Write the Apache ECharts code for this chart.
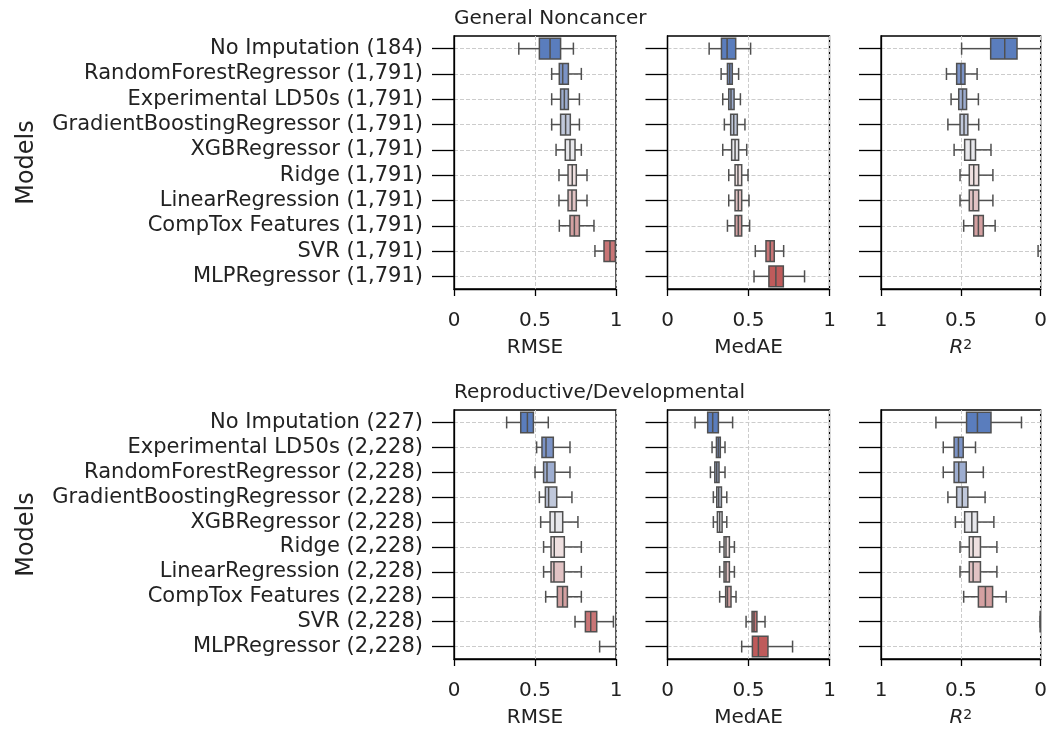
<!DOCTYPE html>
<html>
<head>
<meta charset="utf-8">
<script src="https://cdn.jsdelivr.net/npm/echarts@6/dist/echarts.min.js"></script>
<style>
  html, body { margin: 0; padding: 0; background: #fff; }
  #chart { width: 1050px; height: 729px; }
</style>
</head>
<body>
<div id="chart"></div>
<script>
// model names (y categories) for the two panels rows
var gnModels = ['No Imputation (184)', 'RandomForestRegressor (1,791)', 'Experimental LD50s (1,791)',
  'GradientBoostingRegressor (1,791)', 'XGBRegressor (1,791)', 'Ridge (1,791)',
  'LinearRegression (1,791)', 'CompTox Features (1,791)', 'SVR (1,791)', 'MLPRegressor (1,791)'];
var rdModels = ['No Imputation (227)', 'Experimental LD50s (2,228)', 'RandomForestRegressor (2,228)',
  'GradientBoostingRegressor (2,228)', 'XGBRegressor (2,228)', 'Ridge (2,228)',
  'LinearRegression (2,228)', 'CompTox Features (2,228)', 'SVR (2,228)', 'MLPRegressor (2,228)'];
var rowTitles = ['General Noncancer', 'Reproductive/Developmental'];
var metricNames = ['RMSE', 'MedAE', '{i|R}{s|2}'];

// [low whisker, Q1, median, Q3, high whisker]
// parts that run off the 0..1 axis are clamped at the edge, null = nothing visible
var gnRmse = [
  [0.400, 0.527, 0.593, 0.658, 0.737],
  [0.603, 0.650, 0.671, 0.706, 0.786],
  [0.603, 0.658, 0.681, 0.706, 0.774],
  [0.603, 0.658, 0.689, 0.718, 0.774],
  [0.630, 0.687, 0.716, 0.747, 0.786],
  [0.648, 0.704, 0.730, 0.755, 0.821],
  [0.648, 0.704, 0.728, 0.755, 0.821],
  [0.650, 0.716, 0.743, 0.774, 0.864],
  [0.870, 0.926, 0.963, 0.996, 1],
  null
];
var gnMedae = [
  [0.257, 0.333, 0.368, 0.421, 0.513],
  [0.331, 0.370, 0.384, 0.400, 0.439],
  [0.341, 0.378, 0.392, 0.411, 0.450],
  [0.351, 0.390, 0.409, 0.431, 0.478],
  [0.341, 0.396, 0.417, 0.439, 0.489],
  [0.378, 0.417, 0.435, 0.458, 0.497],
  [0.378, 0.417, 0.437, 0.458, 0.503],
  [0.370, 0.417, 0.437, 0.458, 0.507],
  [0.542, 0.608, 0.634, 0.659, 0.717],
  [0.534, 0.626, 0.669, 0.715, 0.846]
];
var gnR2 = [
  [0, 0.148, 0.225, 0.313, 0.495],
  [0.398, 0.474, 0.499, 0.526, 0.590],
  [0.390, 0.464, 0.489, 0.513, 0.561],
  [0.388, 0.456, 0.480, 0.505, 0.581],
  [0.311, 0.408, 0.439, 0.476, 0.542],
  [0.299, 0.388, 0.419, 0.447, 0.505],
  [0.299, 0.388, 0.423, 0.447, 0.505],
  [0.285, 0.359, 0.390, 0.419, 0.482],
  [0, 0, 0, 0, 0.016],
  null
];
var rdRmse = [
  [0.325, 0.412, 0.453, 0.490, 0.582],
  [0.510, 0.543, 0.568, 0.613, 0.716],
  [0.500, 0.553, 0.574, 0.623, 0.716],
  [0.527, 0.564, 0.584, 0.634, 0.728],
  [0.535, 0.593, 0.623, 0.671, 0.765],
  [0.553, 0.599, 0.619, 0.681, 0.786],
  [0.553, 0.599, 0.617, 0.681, 0.786],
  [0.566, 0.638, 0.671, 0.700, 0.786],
  [0.747, 0.811, 0.844, 0.881, 0.984],
  [0.899, 1, 1, 1, 1]
];
var rdMedae = [
  [0.170, 0.248, 0.279, 0.314, 0.402],
  [0.275, 0.302, 0.314, 0.326, 0.355],
  [0.265, 0.292, 0.304, 0.318, 0.355],
  [0.283, 0.304, 0.316, 0.333, 0.366],
  [0.283, 0.308, 0.322, 0.337, 0.366],
  [0.322, 0.349, 0.361, 0.382, 0.413],
  [0.322, 0.349, 0.361, 0.382, 0.413],
  [0.322, 0.359, 0.370, 0.392, 0.423],
  [0.485, 0.522, 0.534, 0.552, 0.602],
  [0.458, 0.524, 0.561, 0.620, 0.772]
];
var rdR2 = [
  [0.120, 0.311, 0.396, 0.464, 0.656],
  [0.408, 0.485, 0.515, 0.542, 0.610],
  [0.359, 0.466, 0.513, 0.542, 0.610],
  [0.348, 0.456, 0.491, 0.526, 0.581],
  [0.293, 0.396, 0.431, 0.476, 0.534],
  [0.274, 0.377, 0.423, 0.447, 0.505],
  [0.274, 0.377, 0.423, 0.447, 0.505],
  [0.216, 0.301, 0.346, 0.390, 0.482],
  [0, 0, 0, 0.003, 0.003],
  null
];

var boxColors = ['#5a7dbd', '#7b93c6', '#9dadd0', '#c0c8db', '#e8e8ec',
  '#efe0e0', '#e2c3c4', '#d4a0a1', '#c97576', '#bf5b5b'];
var edgeColor = '#505050';
var font = 'DejaVu Sans';

var rows = [
  { models: gnModels, panels: [gnRmse, gnMedae, gnR2] },
  { models: rdModels, panels: [rdRmse, rdMedae, rdR2] }
];

var colLeft = [454, 667.5, 881];
var rowTop = [36, 410];
var rowHeight = [253, 251];
var panelWidth = 162;

function renderBox(params, api) {
  var cat = api.value(0);
  var vals = [api.value(1), api.value(2), api.value(3), api.value(4), api.value(5)];
  var pts = vals.map(function (v) { return api.coord([v, cat]); });
  var y = pts[2][1];
  var band = api.size([0, 1])[1];
  var halfBox = band * 0.41;
  var halfCap = band * 0.24;
  var line = { stroke: edgeColor, lineWidth: 1.5 };
  // clamped values sit on the axis edge: no cap there
  var atEdge = function (v) { return v <= 0 || v >= 1; };
  var kids = [
    { type: 'line', shape: { x1: pts[0][0], y1: y, x2: pts[1][0], y2: y }, style: line },
    { type: 'line', shape: { x1: pts[3][0], y1: y, x2: pts[4][0], y2: y }, style: line }
  ];
  [0, 4].forEach(function (k) {
    if (!atEdge(vals[k])) {
      kids.push({ type: 'line', shape: { x1: pts[k][0], y1: y - halfCap, x2: pts[k][0], y2: y + halfCap }, style: line });
    }
  });
  if (vals[1] !== vals[3]) {
    kids.push({
      type: 'rect',
      shape: { x: Math.min(pts[1][0], pts[3][0]), y: y - halfBox, width: Math.abs(pts[3][0] - pts[1][0]), height: 2 * halfBox },
      style: { fill: boxColors[cat], stroke: edgeColor, lineWidth: 1.5 }
    });
    kids.push({ type: 'line', shape: { x1: pts[2][0], y1: y - halfBox, x2: pts[2][0], y2: y + halfBox }, style: line });
  }
  return { type: 'group', children: kids };
}

var grids = [], xAxes = [], yAxes = [], series = [], titles = [];

rows.forEach(function (row, r) {
  titles.push({
    text: rowTitles[r], left: colLeft[0], top: 9 + (rowTop[r] - rowTop[0]), padding: 0,
    textStyle: { fontFamily: font, fontSize: 20, fontWeight: 'normal', color: '#222' }
  });
  row.panels.forEach(function (stats, c) {
    var g = grids.length;
    grids.push({
      left: colLeft[c], top: rowTop[r], width: panelWidth, height: rowHeight[r],
      show: true, borderColor: '#000', borderWidth: 1.3, backgroundColor: 'transparent'
    });
    xAxes.push({
      type: 'value', gridIndex: g, min: 0, max: 1, interval: 0.5, inverse: c === 2,
      name: metricNames[c], nameLocation: 'middle', nameGap: 49,
      nameTextStyle: {
        fontFamily: font, fontSize: 20, color: '#222',
        rich: {
          i: { fontFamily: font, fontSize: 20, fontStyle: 'italic', color: '#222' },
          s: { fontFamily: font, fontSize: 14, color: '#222', verticalAlign: 'top' }
        }
      },
      axisLine: { show: true, onZero: false, lineStyle: { color: '#000', width: 1.3 } },
      axisTick: { show: true, length: 7, lineStyle: { color: '#000', width: 1.3 } },
      axisLabel: { fontFamily: font, fontSize: 20, color: '#222', margin: 22 },
      splitLine: { show: true, lineStyle: { type: 'dashed', color: '#cccccc', width: 1 } }
    });
    yAxes.push({
      type: 'category', gridIndex: g, data: row.models, inverse: true, position: 'left',
      name: c === 0 ? 'Models' : '', nameLocation: 'middle', nameGap: 415, nameRotate: 90,
      nameTextStyle: { fontFamily: font, fontSize: 24, color: '#222' },
      axisLine: { show: true, onZero: false, lineStyle: { color: '#000', width: 1.3 } },
      axisTick: { show: true, interval: 0, alignWithLabel: true, length: 22, lineStyle: { color: '#000', width: 1.3 } },
      axisLabel: { show: c === 0, interval: 0, fontFamily: font, fontSize: 21, color: '#222', margin: 31 },
      splitLine: { show: true, interval: 0, alignWithLabel: true, lineStyle: { type: 'dashed', color: '#cccccc', width: 1 } }
    });
    var data = [];
    stats.forEach(function (s, i) {
      if (s) data.push([i].concat(s));
    });
    series.push({
      type: 'custom', xAxisIndex: g, yAxisIndex: g, clip: true,
      renderItem: renderBox,
      encode: { x: [1, 2, 3, 4, 5], y: 0 },
      data: data,
      silent: true
    });
  });
});

var chart = echarts.init(document.getElementById('chart'));
chart.setOption({
  backgroundColor: '#fff',
  animation: false,
  title: titles,
  grid: grids,
  xAxis: xAxes,
  yAxis: yAxes,
  series: series
});
</script>
</body>
</html>
